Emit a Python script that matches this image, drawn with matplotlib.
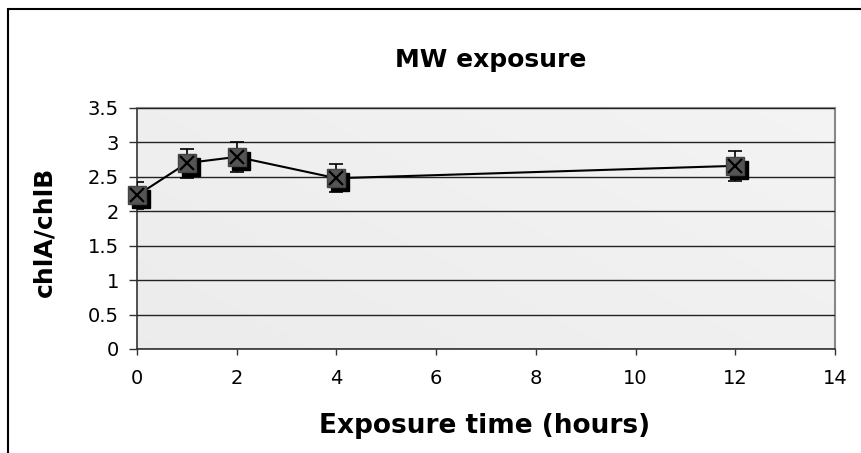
import numpy as np
import matplotlib
matplotlib.use("Agg")
import matplotlib.pyplot as plt
import matplotlib.transforms as mtransforms
from matplotlib.patches import Rectangle

plt.rcParams['font.family'] = ['DejaVu Sans']

# data
hours = [0, 1, 2, 4, 12]
ratio = [2.23, 2.70, 2.79, 2.48, 2.66]
err = [0.20, 0.21, 0.22, 0.20, 0.22]
x_ticks = [0, 2, 4, 6, 8, 10, 12, 14]
y_ticks = [0, 0.5, 1, 1.5, 2, 2.5, 3, 3.5]
y_tick_labels = ['0', '0.5', '1', '1.5', '2', '2.5', '3', '3.5']

fig = plt.figure(figsize=(8.61, 4.53), dpi=100)
fig.patches.append(Rectangle((8 / 861, -0.1), 1.2, 1 - 9 / 453 + 0.1,
                             transform=fig.transFigure, fill=False,
                             edgecolor='black', linewidth=1.5))

ax = fig.add_axes([137 / 861, 104 / 453, 698 / 861, 241 / 453])

# soft gray gradient, like the old Excel plot area
t = np.linspace(0, 1, 64)
tt = (t[None, :] * 0.6 + t[::-1, None] * 0.4)
lo, hi = np.array([0.925, 0.925, 0.925]), np.array([0.955, 0.955, 0.955])
img = lo + (hi - lo) * tt[..., None]
ax.imshow(img, extent=[0, 14, 0, 3.5], aspect='auto', zorder=0,
          interpolation='bilinear')

ax.set_xlim(0, 14)
ax.set_ylim(0, 3.5)
ax.set_xticks(x_ticks)
ax.set_yticks(y_ticks)
ax.set_yticklabels(y_tick_labels)
ax.tick_params(labelsize=14, width=1, color='#333333')
ax.tick_params(axis='x', length=4.5, pad=10)
ax.tick_params(axis='y', length=6, pad=7)
ax.yaxis.grid(True, color='#222222', linewidth=1)
ax.set_axisbelow(False)
for g in ax.get_ygridlines():
    g.set_zorder(1)

for side in ['top', 'right']:
    ax.spines[side].set_color('#888888')
    ax.spines[side].set_linewidth(1.5)
for side in ['left', 'bottom']:
    ax.spines[side].set_color('#333333')
    ax.spines[side].set_linewidth(1.2)

ax.errorbar(hours, ratio, yerr=err, fmt='none', ecolor='black',
            elinewidth=1.2, capsize=5, capthick=1.2, zorder=3)
ax.plot(hours, ratio, '-', color='black', linewidth=1.5, zorder=3)

shadow = mtransforms.offset_copy(ax.transData, fig=fig, x=4, y=-4, units='dots')
ax.plot(hours, ratio, 's', color='black', markersize=12.5, transform=shadow,
        zorder=4, clip_on=False)
ax.plot(hours, ratio, 's', color='#555555', markeredgecolor='#444444',
        markersize=12.5, zorder=5, clip_on=False)
ax.plot(hours, ratio, 'x', color='black', markersize=10, markeredgewidth=1.6,
        zorder=6, clip_on=False)

fig.text(491 / 861, 1 - 60 / 453, 'MW exposure', ha='center', va='center',
         fontsize=18, fontweight='bold')
fig.text(485 / 861, 1 - 426 / 453, 'Exposure time (hours)', ha='center',
         va='center', fontsize=19, fontweight='bold')
fig.text(44 / 861, 1 - 232 / 453, 'chlA/chlB', ha='center', va='center',
         rotation=90, fontsize=18, fontweight='bold')

fig.savefig('out.png', dpi=100)
